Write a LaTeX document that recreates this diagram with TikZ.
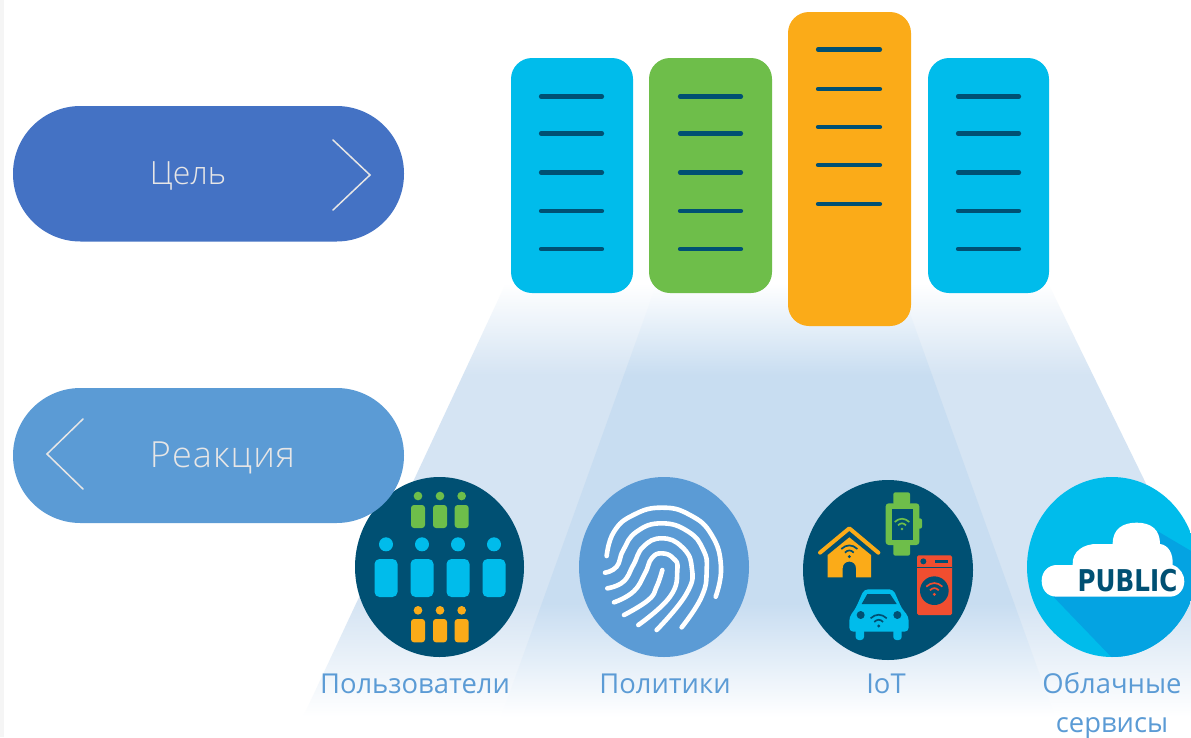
\documentclass[tikz,border=0pt]{standalone}
\usepackage{fontspec}
\setmainfont{Open Sans}
\newfontfamily\lightfont{Open Sans Light}
\newfontfamily\lightwide[LetterSpace=3]{Open Sans Light}
\newfontfamily\pubfont{DejaVu Sans}
\definecolor{goalblue}{HTML}{4472C4}
\definecolor{softblue}{HTML}{5B9BD5}
\definecolor{chev}{HTML}{E7E6E6}
\definecolor{cyanc}{HTML}{00BCEB}
\definecolor{greenc}{HTML}{6EBE4A}
\definecolor{orangec}{HTML}{FBAB18}
\definecolor{darkc}{HTML}{005073}
\definecolor{redc}{HTML}{F04E30}
\definecolor{shadowc}{HTML}{04A3E2}
\definecolor{beamo}{HTML}{D5E4F3}
\definecolor{beami}{HTML}{C8DDF1}
\pgfdeclareverticalshading{beamouter}{100bp}{color(0bp)=(white); color(25bp)=(white); color(38.1bp)=(beamo); color(64.4bp)=(beamo); color(75bp)=(white); color(100bp)=(white)}
\pgfdeclareverticalshading{beaminner}{100bp}{color(0bp)=(white); color(25bp)=(white); color(38.1bp)=(beami); color(64.4bp)=(beami); color(75bp)=(white); color(100bp)=(white)}
\tikzset{
  cell/.style={rounded corners=21pt},
  rowline/.style={draw=darkc,line width=4.2pt,line cap=round},
  chevron/.style={draw=chev,line width=1.5pt,line cap=round,line join=miter},
  pilltext/.style={text=chev,inner sep=0pt},
  captiontext/.style={text=softblue,font=\fontsize{27.4}{32}\selectfont,inner sep=0pt},
  print/.style={draw=white,line width=4.6pt,line cap=round,line join=round},
}
% wifi glyph: #1 = x, #2 = y (dot), #3 = colour, #4 = size
\newcommand{\wifiglyph}[4]{%
  \fill[#3] (#1,#2) circle[radius=#4*0.22];
  \draw[#3,line width=1.7pt] (#1-0.6*#4,#2-0.55*#4) .. controls (#1-0.2*#4,#2-0.95*#4) and (#1+0.2*#4,#2-0.95*#4) .. (#1+0.6*#4,#2-0.55*#4);
  \draw[#3,line width=1.7pt] (#1-1.1*#4,#2-1.05*#4) .. controls (#1-0.4*#4,#2-1.7*#4) and (#1+0.4*#4,#2-1.7*#4) .. (#1+1.1*#4,#2-1.05*#4);
}
\begin{document}
\begin{tikzpicture}[x=1pt,y=-1pt]
\useasboundingbox (0,0) rectangle (1191,737);
\clip (0,0) rectangle (1191,737);
\fill[white] (0,0) rectangle (1191,737);
\fill[black!4] (0,0) rectangle (3.5,737);

% beams
\shade[shading=beamouter] (506,283) -- (1048,283) -- (1260,717) -- (303,717) -- cycle;
\shade[shading=beaminner] (657,283) -- (899,283) -- (1055,717) -- (501,717) -- cycle;

% columns
\fill[cyanc,cell] (511,58) rectangle (633,293);
\fill[greenc,cell] (649,58) rectangle (772,293);
\fill[orangec,cell] (788,12) rectangle (911,326);
\fill[cyanc,cell] (928,58) rectangle (1049,293);
\foreach \yy in {96.5,133.5,172.5,211,249}{
  \draw[rowline] (541,\yy) -- (602,\yy);
  \draw[rowline] (680,\yy) -- (741,\yy);
  \draw[rowline] (958,\yy) -- (1019,\yy);
}
\foreach \yy in {49.5,89,127,165,204}{
  \draw[rowline] (818,\yy) -- (880,\yy);
}

% users icon
\fill[darkc] (439.5,567) ellipse [x radius=84.5, y radius=90];
\begin{scope}[shift={(340,460)},scale=1/3]
  \foreach \xx in {234,300,365}{
    \fill[greenc] (\xx,108) circle[radius=13];
    \fill[greenc,rounded corners=3pt] (\xx-21,135) rectangle (\xx+21,204);
    \fill[orangec] (\xx,451) circle[radius=13];
    \fill[orangec,rounded corners=3pt] (\xx-21,477) rectangle (\xx+21,547);
  }
  \foreach \xx in {138,246,354,462}{
    \fill[cyanc] (\xx,253) circle[radius=21];
    \fill[cyanc,rounded corners=5pt] (\xx-34.5,297) rectangle (\xx+34.5,411);
  }
\end{scope}

% pills
\fill[goalblue,rounded corners=67.5pt] (13,106) rectangle (404,241.5);
\fill[softblue,rounded corners=67.5pt] (13,388) rectangle (404,523);
\draw[chevron] (333,140) -- (370,175) -- (333,210);
\draw[chevron] (83,419) -- (47,454) -- (83,489);
\node[pilltext,anchor=base,font=\lightfont\fontsize{32}{38}\selectfont] (goal) at (188,184) {Цель};
\node[pilltext,anchor=base,font=\lightwide\fontsize{36}{42}\selectfont] (reaction) at (222.5,467.5) {Реакция};

% fingerprint icon
\fill[softblue] (664,567) ellipse [x radius=85, y radius=90];
\begin{scope}[shift={(340,460)},scale=1/3]
  \draw[print] plot[smooth,tension=.8] coordinates {(800,288) (822,215) (880,165) (965,143) (1050,165) (1115,225) (1143,320) (1127,410)};
  \draw[print] plot[smooth,tension=.8] coordinates {(795,338) (830,320) (850,270) (890,215) (965,190) (1045,215) (1090,270) (1100,330) (1085,410) (1025,502)};
  \draw[print] plot[smooth,tension=.8] coordinates {(802,385) (850,365) (880,315) (910,260) (965,235) (1025,260) (1055,320) (1040,400) (950,510)};
  \draw[print] plot[smooth,tension=.8] coordinates {(822,427) (880,395) (915,340) (935,295) (965,280) (1000,295) (1012,330) (990,410) (895,495)};
  \draw[print] plot[smooth,tension=.8] coordinates {(852,465) (925,420) (950,380) (967,330)};
\end{scope}

% IoT icon
\fill[darkc] (888,570) ellipse [x radius=85, y radius=90];
\begin{scope}[shift={(790,460)},scale=1/3]
  % watch
  \fill[greenc,rounded corners=2pt] (310,97) rectangle (360,135);
  \fill[greenc,rounded corners=2pt] (310,250) rectangle (360,287);
  \fill[greenc,rounded corners=2pt] (380,175) rectangle (396,206);
  \fill[greenc,rounded corners=3pt] (287,130) rectangle (388,255);
  \fill[darkc] (305,147) rectangle (368,240);
  \wifiglyph{336}{207}{greenc}{20}
  % house
  \draw[orangec,line width=4pt,line cap=round,line join=round] (90,278) -- (178,205) -- (265,278);
  \fill[orangec] (178,232) -- (243,285) -- (243,352) -- (198,352) -- (198,325)
     .. controls (198,298) and (158,298) .. (158,325) -- (158,352) -- (113,352) -- (113,285) -- cycle;
  \wifiglyph{178}{290}{darkc}{22}
  % washer
  \fill[redc,rounded corners=1.5pt] (381,286) rectangle (486,465);
  \draw[darkc,line width=0.7pt] (381,322) -- (486,322);
  \fill[darkc] (400,304) circle[radius=9];
  \fill[darkc] (435,300) rectangle (475,308);
  \fill[darkc] (433,392) circle[radius=43];
  \wifiglyph{433}{403}{redc}{22}
  % car
  \fill[cyanc,rounded corners=3pt] (197,505) rectangle (222,540);
  \fill[cyanc,rounded corners=3pt] (310,505) rectangle (335,540);
  \fill[cyanc,rounded corners=4pt] (178,515) -- (178,470) -- (197,445) -- (222,388) -- (310,388) -- (335,445) -- (356,470) -- (356,515) -- cycle;
  \fill[darkc] (215,432) -- (232,402) -- (300,402) -- (320,432) -- cycle;
  \fill[darkc] (212,465) circle[radius=12];
  \fill[darkc] (322,465) circle[radius=12];
  \wifiglyph{266}{498}{darkc}{22}
\end{scope}

% cloud icon
\begin{scope}
  \clip (1112,567) ellipse [x radius=85, y radius=90];
  \fill[cyanc] (1027,477) rectangle (1197,657);
  \begin{scope}[shift={(790,460)},scale=1/3]
    \fill[shadowc] (790,410) -- (965,592) -- (1300,592) -- (1300,330) -- (1105,215) -- cycle;
  \end{scope}
\end{scope}
\begin{scope}[shift={(790,460)},scale=1/3]
  \fill[white] (800,315) -- (848,315) .. controls (845,275) and (880,250) .. (925,252) -- (968,252)
     .. controls (968,205) and (1000,188) .. (1040,188) .. controls (1085,188) and (1110,210) .. (1110,252)
     .. controls (1135,255) and (1150,280) .. (1148,315) .. controls (1170,322) and (1184,345) .. (1183,365)
     .. controls (1182,390) and (1165,410) .. (1140,410) -- (800,410)
     .. controls (772,410) and (755,390) .. (755,362) .. controls (755,335) and (775,315) .. (800,315) -- cycle;
\end{scope}
\node[text=darkc,font=\pubfont\bfseries\fontsize{30}{34}\selectfont,inner sep=0pt,anchor=base] (public) at (1127.5,591.5) {\scalebox{0.82}[1]{PUBLIC}};

% labels
\node[captiontext,anchor=base] (users) at (415,693.5) {Пользователи};
\node[captiontext,anchor=base] (policies) at (665,693.5) {Политики};
\node[captiontext,anchor=base] (iot) at (886,693.5) {IoT};
\node[captiontext,anchor=base] (cloud1) at (1112,693.5) {Облачные};
\node[captiontext,anchor=base] (cloud2) at (1112,732) {сервисы};
\end{tikzpicture}
\end{document}
